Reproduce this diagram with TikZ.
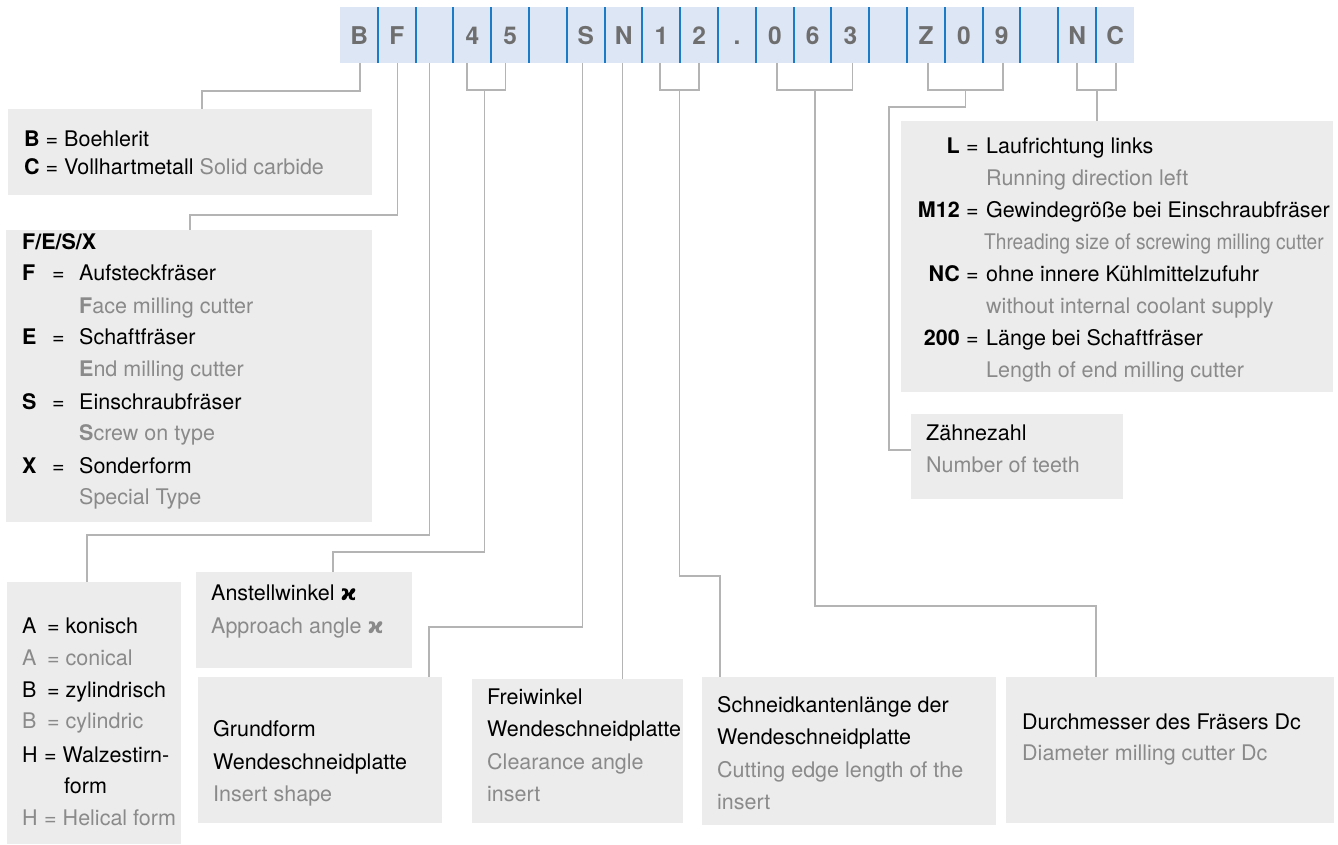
\documentclass[tikz,border=0pt]{standalone}
\usepackage{fontspec}
\setmainfont{TeX Gyre Heros}
\newfontfamily\dvs{DejaVu Sans}
\definecolor{boxgray}{HTML}{ECECEC}
\definecolor{barblue}{HTML}{DDE6F5}
\definecolor{sepblue}{HTML}{1C7BC6}
\definecolor{wiregray}{HTML}{B4B4B4}
\definecolor{txtgray}{HTML}{8A8A8A}
\definecolor{barletter}{HTML}{6E6E6E}
\newcommand\fsz{\fontsize{21.5}{26}\selectfont}
\newcommand\kap{{\dvs\bfseries ϰ}}
\begin{document}
\begin{tikzpicture}[x=1pt,y=-1pt,
  infobox/.style={fill=boxgray, draw=none, inner sep=0pt, anchor=north west},
  cellbox/.style={minimum width=37.8pt, minimum height=56pt, inner sep=0pt, anchor=north west,
    text height=17.6pt, text depth=0pt, font=\fontsize{24.5}{28}\selectfont\bfseries, text=barletter},
  sepline/.style={draw=sepblue, line width=2pt},
  wire/.style={draw=wiregray, line width=1.8pt},
  txtb/.style={inner sep=0pt, text height=15.4pt, text depth=0pt, font=\fsz, text=black, anchor=west},
  txtg/.style={txtb, text=txtgray},
  lbl/.style={txtb, font=\fsz\bfseries, anchor=east}
]
\useasboundingbox (0,0) rectangle (1338,844);

% code bar
\node[fill=barblue, minimum width=794pt, minimum height=56pt, inner sep=0pt, anchor=north west] (bar) at (340,7) {};
\foreach \l [count=\i from 0] in {B,F,{},4,5,{},S,N,1,2,.,0,6,3,{},Z,0,9,{},N,C}
  \node[cellbox] (c\i) at ({340+37.8*\i},7) {\l};
\foreach \i in {1,...,20}
  \draw[sepline] (c\i.north west) -- (c\i.south west);

% boxes
\node[infobox, minimum width=364pt, minimum height=86pt] (bc) at (8,109) {};
\node[infobox, minimum width=366pt, minimum height=292pt] (fesx) at (6,230) {};
\node[infobox, minimum width=432pt, minimum height=271pt] (lmnc) at (901,121) {};
\node[infobox, minimum width=212pt, minimum height=85pt] (zahn) at (911,414) {};
\node[infobox, minimum width=174pt, minimum height=262pt] (abh) at (7,582) {};
\node[infobox, minimum width=216pt, minimum height=96pt] (ang) at (196,572) {};
\node[infobox, minimum width=244pt, minimum height=146pt] (grund) at (198,677) {};
\node[infobox, minimum width=211pt, minimum height=144pt] (frei) at (472,679) {};
\node[infobox, minimum width=294pt, minimum height=148pt] (schneid) at (702,677) {};
\node[infobox, minimum width=328pt, minimum height=146pt] (durch) at (1006,677) {};

% connector coordinates
\coordinate (sB) at (360,63);      \coordinate (kB) at (202,91);
\coordinate (sF) at (397.5,63);    \coordinate (kF) at (190,215);
\coordinate (sX) at (429.5,63);    \coordinate (kX) at (87,535);
\coordinate (s4) at (467,63);      \coordinate (s5) at (505.5,63);
\coordinate (m45) at (484.5,90);   \coordinate (k45) at (333,552);
\coordinate (sS) at (582.5,63);    \coordinate (kS) at (429,627);
\coordinate (sN) at (622.5,63);
\coordinate (s1) at (660,63);      \coordinate (s2) at (699,63);
\coordinate (m12) at (679.5,90);   \coordinate (k12) at (720,576);
\coordinate (s0) at (777,63);      \coordinate (s3) at (852.5,63);
\coordinate (m063) at (815,90);    \coordinate (k063) at (1096,606);
\coordinate (sZ) at (928.3,63);    \coordinate (s9) at (1003.3,63);
\coordinate (mZ9) at (965.5,90);   \coordinate (kZa) at (889,107);
\coordinate (kZb) at (889,450);
\coordinate (sNN) at (1077.3,63);  \coordinate (sC) at (1116,63);
\coordinate (mNC) at (1096.7,90);

% connectors
\draw[wire] (sB) |- (kB) -- (kB |- bc.north);
\draw[wire] (sF) |- (kF) -- (kF |- fesx.north);
\draw[wire] (sX) |- (kX) -- (kX |- abh.north);
\draw[wire] (s4) |- (m45) -| (s5);
\draw[wire] (m45) |- (k45) -- (k45 |- ang.north);
\draw[wire] (sS) |- (kS) -- (kS |- grund.north);
\draw[wire] (sN) -- (sN |- frei.north);
\draw[wire] (s1) |- (m12) -| (s2);
\draw[wire] (m12) |- (k12) -- (k12 |- schneid.north);
\draw[wire] (s0) |- (m063) -| (s3);
\draw[wire] (m063) |- (k063) -- (k063 |- durch.north);
\draw[wire] (sZ) |- (mZ9) -| (s9);
\draw[wire] (mZ9) |- (kZa) -- (kZb) -- (kZb -| zahn.west);
\draw[wire] (sNN) |- (mNC) -| (sC);
\draw[wire] (mNC) -- (mNC |- lmnc.north);

% B / C box
\node[txtb] (tb1) at (24,139) {{\bfseries B} = Boehlerit};
\node[txtb] (tb2) at (24,167) {{\bfseries C} = Vollhartmetall \textcolor{txtgray}{Solid carbide}};

% F/E/S/X box
\node[txtb, font=\fsz\bfseries] (tf0) at (22,242) {F/E/S/X};
\node[txtb, font=\fsz\bfseries] (tfl1) at (22,273) {F};
\node[txtb, font=\fsz\bfseries] (tfl2) at (22,337) {E};
\node[txtb, font=\fsz\bfseries] (tfl3) at (22,402) {S};
\node[txtb, font=\fsz\bfseries] (tfl4) at (22,466) {X};
\node[txtb] (tfe1) at (52,273) {=};
\node[txtb] (tfe2) at (52,337) {=};
\node[txtb] (tfe3) at (52,402) {=};
\node[txtb] (tfe4) at (52,466) {=};
\node[txtb] (tft1) at (79,273) {Aufsteckfräser};
\node[txtg] (tfg1) at (79,306) {{\bfseries F}ace milling cutter};
\node[txtb] (tft2) at (79,337) {Schaftfräser};
\node[txtg] (tfg2) at (79,369) {{\bfseries E}nd milling cutter};
\node[txtb] (tft3) at (79,402) {Einschraubfräser};
\node[txtg] (tfg3) at (79,433) {{\bfseries S}crew on type};
\node[txtb] (tft4) at (79,466) {Sonderform};
\node[txtg] (tfg4) at (79,497) {Special Type};

% L / M12 / NC / 200 box
\node[lbl] (tl1) at (960,146) {L};
\node[lbl] (tl2) at (960,210) {M12};
\node[lbl] (tl3) at (960,274) {NC};
\node[lbl] (tl4) at (960,338) {200};
\node[txtb] (tle1) at (966,146) {=};
\node[txtb] (tle2) at (966,210) {=};
\node[txtb] (tle3) at (966,274) {=};
\node[txtb] (tle4) at (966,338) {=};
\node[txtb] (tlt1) at (986,146) {Laufrichtung links};
\node[txtg] (tlg1) at (986,178) {Running direction left};
\node[txtb] (tlt2) at (986,210) {Gewindegröße bei Einschraubfräser};
\node[txtg] (tlg2) at (984,242) {\scalebox{0.89}[1]{Threading size of screwing milling cutter}};
\node[txtb] (tlt3) at (986,274) {ohne innere Kühlmittelzufuhr};
\node[txtg] (tlg3) at (986,306) {without internal coolant supply};
\node[txtb] (tlt4) at (986,338) {Länge bei Schaftfräser};
\node[txtg] (tlg4) at (986,370) {Length of end milling cutter};

% Zaehnezahl
\node[txtb] (tz1) at (926,433) {Zähnezahl};
\node[txtg] (tz2) at (926,465) {Number of teeth};

% A / B / H box
\node[txtb] (ta1) at (22,626) {\makebox[25pt][l]{A}= konisch};
\node[txtg] (ta2) at (22,658) {\makebox[25pt][l]{A}= conical};
\node[txtb] (ta3) at (22,690) {\makebox[25pt][l]{B}= zylindrisch};
\node[txtg] (ta4) at (22,721) {\makebox[25pt][l]{B}= cylindric};
\node[txtb] (ta5) at (22,755) {\makebox[22pt][l]{H}= Walzestirn-};
\node[txtb] (ta6) at (64,786) {form};
\node[txtg] (ta7) at (22,818) {\makebox[22pt][l]{H}= Helical form};

% Anstellwinkel
\node[txtb] (tw1) at (211,593) {Anstellwinkel \kap};
\node[txtg] (tw2) at (211,626) {Approach angle \kap};

% Grundform
\node[txtb] (tg1) at (213,729) {Grundform};
\node[txtb] (tg2) at (213,762) {Wendeschneidplatte};
\node[txtg] (tg3) at (213,794) {Insert shape};

% Freiwinkel
\node[txtb] (tr1) at (487,697) {Freiwinkel};
\node[txtb] (tr2) at (487,729) {Wendeschneidplatte};
\node[txtg] (tr3) at (487,762) {Clearance angle};
\node[txtg] (tr4) at (487,794) {insert};

% Schneidkantenlaenge
\node[txtb] (ts1) at (717,705) {Schneidkantenlänge der};
\node[txtb] (ts2) at (717,737) {Wendeschneidplatte};
\node[txtg] (ts3) at (717,770) {Cutting edge length of the};
\node[txtg] (ts4) at (717,802) {insert};

% Durchmesser
\node[txtb] (td1) at (1022,722) {Durchmesser des Fräsers Dc};
\node[txtg] (td2) at (1022,753) {Diameter milling cutter Dc};
\end{tikzpicture}
\end{document}
